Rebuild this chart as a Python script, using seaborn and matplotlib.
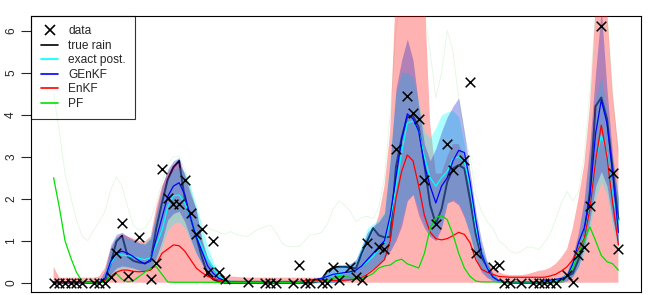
import numpy as np
import pandas as pd
import seaborn as sns
import matplotlib.pyplot as plt
from matplotlib.lines import Line2D

nan = np.nan

# time index of every filter step
steps = list(range(1, 101))

# observed rain (nan where no cross is drawn)
obs = [0, 0, 0, 0, 0, 0, nan, 0, 0, 0,
       0.14, 0.70, 1.43, 0.17, nan, 1.08, nan, 0.09, 0.46, 2.7,
       2.02, 1.87, 1.87, 2.45, 1.67, 1.16, 1.28, 0.26, 1.0, 0.26,
       0.1, nan, nan, nan, 0.02, nan, nan, 0, 0, 0,
       nan, nan, 0, 0.42, 0, 0, nan, 0, 0, 0.38,
       0.06, nan, 0.38, 0.14, 0.06, 0.94, nan, 0.84, 0.8, nan,
       3.18, nan, 4.45, 4.05, 3.89, 2.45, nan, 1.4, nan, 3.3,
       2.68, nan, 2.92, 4.79, 0.7, nan, nan, 0.37, 0.42, 0,
       0, nan, 0, nan, 0, 0, 0, 0, 0, nan,
       0.18, 0.02, 0.66, 0.84, 1.83, nan, 6.12, nan, 2.62, 0.8]

true_rain = [0, 0, 0, 0, 0, 0, 0, 0, 0, 0.05,
             0.45, 0.98, 1.12, 0.62, 0.52, 0.48, 0.46, 0.52, 1.3, 1.9,
             2.45, 2.75, 2.9, 2.0, 1.55, 1.1, 0.6, 0.2, 0.08, 0.02,
             0, 0, 0, 0, 0, 0, 0, 0, 0, 0,
             0, 0, 0, 0, 0, 0, 0.02, 0.08, 0.28, 0.36,
             0.38, 0.38, 0.36, 0.34, 0.7, 1.0, 1.3, 1.13, 1.08, 1.09,
             2.75, 3.45, 3.95, 3.97, 3.7, 2.8, 1.85, 1.4, 1.75, 2.4,
             2.72, 2.8, 2.72, 1.97, 1.15, 0.6, 0.38, 0.15, 0.05, 0.02,
             0, 0, 0, 0, 0, 0, 0, 0, 0.02, 0.08,
             0.15, 0.22, 0.55, 1.05, 2.2, 4.2, 4.41, 3.9, 2.7, 1.5]

exact_mean = [0.02, 0.02, 0.02, 0.02, 0.02, 0.02, 0.02, 0.02, 0.02, 0.1,
              0.45, 0.68, 0.66, 0.64, 0.62, 0.58, 0.55, 0.6, 0.9, 1.25,
              1.8, 2.07, 2.09, 1.9, 1.55, 1.15, 0.85, 0.55, 0.35, 0.15,
              0.08, 0.03, 0.03, 0.03, 0.03, 0.03, 0.03, 0.03, 0.03, 0.03,
              0.03, 0.03, 0.03, 0.03, 0.04, 0.05, 0.07, 0.1, 0.14, 0.18,
              0.2, 0.22, 0.25, 0.3, 0.4, 0.5, 0.62, 0.8, 0.95, 1.5,
              2.25, 3.1, 3.8, 3.85, 3.6, 3.0, 2.5, 2.3, 2.5, 2.65,
              2.95, 3.0, 2.9, 2.3, 1.35, 0.7, 0.38, 0.16, 0.06, 0.02,
              0.02, 0.02, 0.02, 0.02, 0.02, 0.02, 0.03, 0.04, 0.06, 0.1,
              0.18, 0.4, 0.8, 1.1, 1.8, 2.9, 3.5, 3.1, 2.05, 1.45]
exact_lo = [0, 0, 0, 0, 0, 0, 0, 0, 0, 0.02,
            0.15, 0.3, 0.35, 0.35, 0.32, 0.3, 0.28, 0.3, 0.55, 0.85,
            1.25, 1.4, 1.45, 1.3, 1.0, 0.7, 0.45, 0.25, 0.12, 0.05,
            0, 0, 0, 0, 0, 0, 0, 0, 0, 0,
            0, 0, 0, 0, 0, 0, 0, 0, 0, 0,
            0.02, 0.04, 0.06, 0.1, 0.15, 0.25, 0.35, 0.45, 0.55, 0.8,
            1.1, 1.5, 2.0, 2.1, 1.8, 1.4, 1.15, 1.05, 1.4, 1.9,
            2.0, 1.9, 1.6, 1.1, 0.6, 0.3, 0.15, 0.06, 0.02, 0,
            0, 0, 0, 0, 0, 0, 0, 0, 0.02, 0.04,
            0.06, 0.15, 0.35, 0.7, 1.3, 2.0, 2.4, 2.1, 1.3, 0.8]
exact_hi = [0.06, 0.04, 0.04, 0.04, 0.04, 0.04, 0.04, 0.04, 0.04, 0.25,
            0.8, 1.1, 1.1, 1.05, 1.0, 0.95, 0.95, 1.1, 1.6, 2.1,
            2.5, 2.7, 2.75, 2.65, 2.3, 1.85, 1.35, 0.85, 0.5, 0.25,
            0.12, 0.08, 0.05, 0.05, 0.05, 0.05, 0.05, 0.05, 0.05, 0.05,
            0.05, 0.05, 0.05, 0.05, 0.06, 0.08, 0.1, 0.15, 0.25, 0.35,
            0.4, 0.42, 0.45, 0.55, 0.9, 1.3, 1.4, 1.5, 1.7, 3.0,
            4.5, 5.0, 5.0, 4.9, 4.3, 3.6, 3.45, 3.7, 4.0, 4.07,
            4.1, 3.95, 3.3, 2.3, 1.5, 0.85, 0.45, 0.22, 0.08, 0.05,
            0.05, 0.05, 0.05, 0.05, 0.05, 0.06, 0.06, 0.08, 0.1, 0.15,
            0.25, 0.6, 1.1, 1.8, 3.0, 4.4, 4.9, 4.1, 2.9, 2.05]

genkf_mean = [0.02, 0.02, 0.02, 0.02, 0.02, 0.02, 0.02, 0.02, 0.02, 0.1,
              0.5, 0.7, 0.75, 0.7, 0.62, 0.52, 0.45, 0.55, 1.05, 1.55,
              2.05, 2.3, 2.38, 2.1, 1.55, 1.1, 0.75, 0.4, 0.22, 0.1,
              0.05, 0.02, 0.02, 0.02, 0.02, 0.02, 0.02, 0.02, 0.02, 0.02,
              0.02, 0.02, 0.02, 0.02, 0.04, 0.06, 0.08, 0.1, 0.15, 0.2,
              0.22, 0.24, 0.26, 0.3, 0.4, 0.55, 0.7, 0.85, 1.0, 1.6,
              2.5, 3.4, 4.02, 3.9, 3.6, 2.8, 2.3, 1.9, 2.3, 2.5,
              2.9, 3.15, 3.1, 2.4, 1.5, 0.7, 0.35, 0.14, 0.05, 0.02,
              0.02, 0.02, 0.02, 0.02, 0.02, 0.02, 0.04, 0.06, 0.08, 0.1,
              0.15, 0.45, 0.95, 1.3, 2.05, 3.55, 4.35, 3.8, 2.6, 1.2]
genkf_lo = [0, 0, 0, 0, 0, 0, 0, 0, 0, 0.02,
            0.2, 0.35, 0.4, 0.38, 0.35, 0.3, 0.28, 0.32, 0.6, 1.0,
            1.5, 1.65, 1.7, 1.45, 1.05, 0.7, 0.45, 0.2, 0.1, 0.05,
            0, 0, 0, 0, 0, 0, 0, 0, 0, 0,
            0, 0, 0, 0, 0, 0, 0, 0, 0, 0,
            0.02, 0.04, 0.06, 0.1, 0.15, 0.25, 0.35, 0.45, 0.6, 0.75,
            1.0, 1.35, 1.95, 2.1, 1.6, 1.3, 1.1, 1.0, 1.3, 1.9,
            1.95, 1.85, 1.55, 1.15, 0.6, 0.25, 0.12, 0.05, 0, 0,
            0, 0, 0, 0, 0, 0, 0, 0, 0, 0,
            0.05, 0.15, 0.4, 0.85, 1.5, 2.3, 2.65, 2.3, 1.5, 0.9]
genkf_hi = [0.06, 0.04, 0.04, 0.04, 0.04, 0.04, 0.04, 0.04, 0.04, 0.3,
            0.9, 1.15, 1.2, 1.1, 1.02, 0.95, 0.92, 1.05, 1.7, 2.3,
            2.7, 2.9, 2.98, 2.55, 2.1, 1.75, 1.0, 0.6, 0.38, 0.2,
            0.1, 0.05, 0.05, 0.05, 0.05, 0.05, 0.05, 0.05, 0.05, 0.05,
            0.05, 0.05, 0.05, 0.05, 0.06, 0.08, 0.1, 0.15, 0.25, 0.35,
            0.4, 0.42, 0.45, 0.55, 0.85, 1.2, 1.35, 1.45, 1.65, 2.9,
            4.6, 5.3, 5.8, 5.3, 4.2, 3.3, 2.9, 3.2, 3.6, 3.95,
            4.2, 4.4, 3.6, 2.65, 1.7, 1.0, 0.5, 0.22, 0.08, 0.05,
            0.05, 0.05, 0.05, 0.05, 0.05, 0.05, 0.06, 0.08, 0.1, 0.15,
            0.25, 0.65, 1.2, 2.0, 3.3, 5.0, 6.5, 4.6, 3.0, 2.0]

enkf_mean = [0.02, 0.02, 0.02, 0.02, 0.02, 0.02, 0.02, 0.02, 0.02, 0.05,
             0.15, 0.25, 0.3, 0.3, 0.27, 0.26, 0.27, 0.3, 0.45, 0.7,
             0.8, 0.9, 0.88, 0.75, 0.55, 0.35, 0.24, 0.15, 0.1, 0.06,
             0.04, 0.03, 0.03, 0.03, 0.03, 0.03, 0.03, 0.03, 0.03, 0.03,
             0.03, 0.03, 0.03, 0.03, 0.05, 0.05, 0.05, 0.05, 0.05, 0.05,
             0.05, 0.06, 0.07, 0.09, 0.12, 0.2, 0.3, 0.42, 0.55, 1.0,
             2.0, 2.65, 3.04, 2.9, 2.3, 1.6, 1.2, 1.05, 1.02, 1.05,
             1.12, 1.2, 1.15, 0.95, 0.55, 0.32, 0.25, 0.2, 0.15, 0.14,
             0.13, 0.13, 0.13, 0.13, 0.13, 0.13, 0.13, 0.16, 0.2, 0.28,
             0.38, 0.55, 0.8, 1.05, 1.75, 2.9, 3.75, 3.0, 1.9, 0.9]
enkf_lo = [0.0] * 100
enkf_hi = [0.38, 0.12, 0.12, 0.12, 0.12, 0.12, 0.12, 0.12, 0.15, 0.35,
           0.8, 1.05, 1.15, 1.1, 1.05, 1.0, 0.98, 1.1, 1.8, 2.3,
           2.6, 2.8, 2.85, 2.6, 2.2, 1.75, 1.1, 0.6, 0.35, 0.2,
           0.15, 0.15, 0.14, 0.13, 0.12, 0.12, 0.12, 0.12, 0.12, 0.12,
           0.12, 0.12, 0.12, 0.12, 0.12, 0.12, 0.12, 0.12, 0.13, 0.15,
           0.2, 0.25, 0.3, 0.4, 0.6, 0.9, 1.2, 1.6, 2.3, 3.6,
           7.0, 7.5, 7.5, 7.5, 7.5, 7.0, 3.8, 2.6, 2.6, 3.0,
           3.3, 3.3, 3.0, 2.3, 1.5, 0.8, 0.5, 0.35, 0.25, 0.2,
           0.18, 0.18, 0.18, 0.2, 0.24, 0.28, 0.3, 0.35, 0.45, 0.6,
           0.8, 1.3, 2.0, 2.8, 4.2, 6.5, 7.5, 6.5, 4.5, 3.2]

pf_mean = [2.5, 1.8, 1.0, 0.6, 0.25, 0.03, 0.01, 0.01, 0.01, 0.01,
           0.15, 0.22, 0.08, 0.02, 0.05, 0.15, 0.25, 0.35, 0.38, 0.2,
           0.02, 0.01, 0.01, 0.01, 0.01, 0.01, 0.01, 0.01, 0.01, 0.01,
           0.01, 0.01, 0.01, 0.01, 0.01, 0.01, 0.01, 0.01, 0.01, 0.01,
           0.01, 0.01, 0.01, 0.01, 0.03, 0.03, 0.03, 0.03, 0.05, 0.1,
           0.15, 0.15, 0.12, 0.1, 0.1, 0.15, 0.22, 0.35, 0.4, 0.42,
           0.52, 0.56, 0.45, 0.4, 0.35, 0.7, 1.3, 1.55, 1.6, 1.5,
           1.15, 0.7, 0.35, 0.15, 0.04, 0.02, 0.02, 0.02, 0.02, 0.02,
           0.02, 0.02, 0.02, 0.02, 0.02, 0.02, 0.02, 0.02, 0.02, 0.02,
           0.15, 0.35, 0.7, 1.0, 1.33, 1.0, 0.65, 0.5, 0.45, 0.3]
pf_upper = [4.5, 3.6, 2.6, 2.05, 1.5, 1.1, 1.0, 1.25, 1.45, 1.7,
            2.2, 2.52, 2.3, 1.8, 1.35, 1.25, 1.3, 1.5, 1.9, 2.4,
            2.8, 3.0, 3.0, 2.7, 2.2, 1.7, 1.4, 1.3, 1.25, 1.2,
            1.15, 1.22, 1.15, 1.12, 1.1, 1.2, 1.28, 1.33, 1.37, 1.2,
            0.95, 0.86, 0.86, 0.86, 1.0, 1.15, 1.15, 1.2, 1.4, 1.75,
            1.95, 1.85, 1.7, 1.45, 1.55, 1.58, 1.53, 1.8, 2.5, 4.0,
            6.0, 7.0, 7.5, 7.5, 7.0, 6.5, 5.5, 4.4, 5.0, 6.0,
            5.5, 4.4, 3.5, 3.0, 2.1, 1.7, 1.45, 1.3, 1.0, 0.9,
            0.75, 0.7, 0.75, 0.85, 0.85, 0.78, 0.95, 1.15, 1.5, 1.9,
            2.17, 1.95, 2.15, 3.0, 4.5, 6.5, 7.5, 6.5, 4.5, 3.0]

sns.set_theme(style="white")
plt.rcParams['font.family'] = ['Liberation Sans', 'DejaVu Sans']

fig = plt.figure(figsize=(6.64, 2.95), dpi=100)
ax = fig.add_axes([31 / 664, 3 / 295, 610 / 664, 276.3 / 295])

# faint upper line of the particle filter, then the true rain under the bands
ax.plot(steps, pf_upper, color='#e2f7e2', lw=0.6, zorder=1)
ax.plot(steps, true_rain, color='black', lw=1.4, zorder=2)

# credible bands
ax.fill_between(steps, enkf_lo, enkf_hi, color=(1, 0, 0, 0.3), lw=0, zorder=3)
ax.fill_between(steps, exact_lo, exact_hi, color=(0, 1, 1, 0.32), lw=0, zorder=3)
ax.fill_between(steps, genkf_lo, genkf_hi, color=(0.02, 0.06, 0.78, 0.3), lw=0, zorder=3)

lines = pd.DataFrame({
    't': steps * 4,
    'value': exact_mean + genkf_mean + enkf_mean + pf_mean,
    'method': ['exact post.'] * 100 + ['GEnKF'] * 100 + ['EnKF'] * 100 + ['PF'] * 100,
})
palette = {'exact post.': '#00ffff', 'GEnKF': '#0000ff', 'EnKF': '#ff0000', 'PF': '#00e000'}
sns.lineplot(data=lines, x='t', y='value', hue='method', palette=palette,
             estimator=None, sort=False, lw=0.9, legend=False, ax=ax, zorder=4)

sns.scatterplot(x=steps, y=obs, marker='x', color='black', s=48,
                linewidth=1.1, ax=ax, zorder=5)

ax.set_xlim(-2.96, 103.96)
ax.set_ylim(-0.221, 6.357)
ax.set_xticks([])
ax.set_yticks(range(7))
ax.set_yticklabels([str(v) for v in range(7)], rotation=90, va='center', fontsize=8.6)
ax.tick_params(axis='y', direction='out', length=7, width=0.8, pad=3, left=True)
ax.set_xlabel('')
ax.set_ylabel('')
for sp in ax.spines.values():
    sp.set_color('black')
    sp.set_linewidth(0.8)

handles = [
    Line2D([], [], ls='none', marker='x', color='black', ms=7, mew=1.2),
    Line2D([], [], color='black', lw=1.2),
    Line2D([], [], color='#00ffff', lw=1.2),
    Line2D([], [], color='#0000ff', lw=1.2),
    Line2D([], [], color='#ff0000', lw=1.2),
    Line2D([], [], color='#00e000', lw=1.2),
]
labels = ['data', 'true rain', 'exact post.', 'GEnKF', 'EnKF', 'PF']
leg = ax.legend(handles, labels, loc='upper left', borderaxespad=0, fontsize=8.6,
                fancybox=False, frameon=True, handlelength=1.5, handletextpad=0.8,
                borderpad=0.8, labelspacing=0.21)
leg.get_frame().set_edgecolor('black')
leg.get_frame().set_facecolor('none')
leg.get_frame().set_linewidth(0.8)

fig.savefig('out.png', dpi=100)
